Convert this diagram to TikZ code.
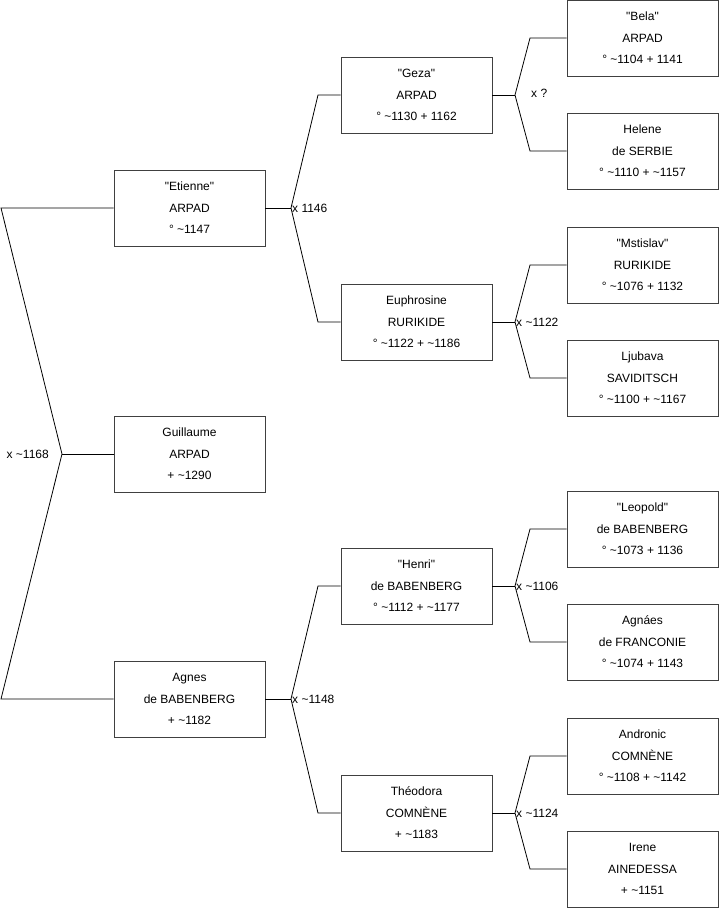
\documentclass[tikz,border=0pt]{standalone}
\usepackage{fontspec}
\setmainfont{Liberation Sans}[Ligatures=TeXOff]
\usetikzlibrary{positioning}
\newcommand{\apx}{\textasciitilde}

\begin{document}
\begin{tikzpicture}[
  x=1pt, y=-1pt,
  pbox/.style={draw=black!75, line width=0.9pt, minimum width=151pt, minimum height=76pt,
               inner sep=0pt, align=center, font=\fontsize{12}{21.5}\selectfont},
  link/.style={line width=0.8pt},
  mlabel/.style={font=\fontsize{12}{14}\selectfont, inner sep=0pt},
]
  \useasboundingbox (0,0) rectangle (719,908);

  % generation 1
  \node[pbox] (etienne) at (189.5,208) {"Etienne"\\ARPAD\\° \apx1147};
  \node[pbox] (guillaume) at (189.5,454) {Guillaume\\ARPAD\\+ \apx1290};
  \node[pbox] (agnes) at (189.5,699) {Agnes\\de BABENBERG\\+ \apx1182};

  % generation 2
  \node[pbox] (geza) at (416.5,95) {"Geza"\\ARPAD\\° \apx1130 + 1162};
  \node[pbox] (euphro) at (416.5,322) {Euphrosine\\RURIKIDE\\° \apx1122 + \apx1186};
  \node[pbox] (henri) at (416.5,586) {"Henri"\\de BABENBERG\\° \apx1112 + \apx1177};
  \node[pbox] (theodora) at (416.5,813) {Théodora\\COMNÈNE\\+ \apx1183};

  % generation 3
  \node[pbox] (bela) at (642.5,38) {"Bela"\\ARPAD\\° \apx1104 + 1141};
  \node[pbox] (helene) at (642.5,151) {Helene\\de SERBIE\\° \apx1110 + \apx1157};
  \node[pbox] (mstislav) at (642.5,265) {"Mstislav"\\RURIKIDE\\° \apx1076 + 1132};
  \node[pbox] (ljubava) at (642.5,378) {Ljubava\\SAVIDITSCH\\° \apx1100 + \apx1167};
  \node[pbox] (leopold) at (642.5,529) {"Leopold"\\de BABENBERG\\° \apx1073 + 1136};
  \node[pbox] (agnaes) at (642.5,642) {Agnáes\\de FRANCONIE\\° \apx1074 + 1143};
  \node[pbox] (andronic) at (642.5,756) {Andronic\\COMNÈNE\\° \apx1108 + \apx1142};
  \node[pbox] (irene) at (642.5,869) {Irene\\AINEDESSA\\+ \apx1151};

  % fork points
  \coordinate (f0) at (62,454);
  \coordinate (f0a) at (1,208);
  \coordinate (f0b) at (1,699);
  \coordinate (f1) at (291,208);
  \coordinate (f1a) at (318,95);
  \coordinate (f1b) at (318,322);
  \coordinate (f2) at (291,699);
  \coordinate (f2a) at (318,586);
  \coordinate (f2b) at (318,813);
  \coordinate (f3) at (515,95);
  \coordinate (f3a) at (530,38);
  \coordinate (f3b) at (530,151);
  \coordinate (f4) at (515,322);
  \coordinate (f4a) at (530,265);
  \coordinate (f4b) at (530,378);
  \coordinate (f5) at (515,586);
  \coordinate (f5a) at (530,529);
  \coordinate (f5b) at (530,642);
  \coordinate (f6) at (515,813);
  \coordinate (f6a) at (530,756);
  \coordinate (f6b) at (530,869);

  % marriages
  \draw[link] (etienne) -- (f0a) -- (f0) -- (f0b) -- (agnes);
  \draw[link] (f0) -- (guillaume);
  \draw[link] (etienne) -- (f1);
  \draw[link] (geza) -- (f1a) -- (f1) -- (f1b) -- (euphro);
  \draw[link] (agnes) -- (f2);
  \draw[link] (henri) -- (f2a) -- (f2) -- (f2b) -- (theodora);
  \draw[link] (geza) -- (f3);
  \draw[link] (bela) -- (f3a) -- (f3) -- (f3b) -- (helene);
  \draw[link] (euphro) -- (f4);
  \draw[link] (mstislav) -- (f4a) -- (f4) -- (f4b) -- (ljubava);
  \draw[link] (henri) -- (f5);
  \draw[link] (leopold) -- (f5a) -- (f5) -- (f5b) -- (agnaes);
  \draw[link] (theodora) -- (f6);
  \draw[link] (andronic) -- (f6a) -- (f6) -- (f6b) -- (irene);

  \node[mlabel, anchor=east] (m0) at (49,454) {x \apx1168};
  \node[mlabel, anchor=west] (m1) at (292,208) {x 1146};
  \node[mlabel, anchor=west] (m2) at (292,699) {x \apx1148};
  \node[mlabel, anchor=west] (m3) at (531,93) {x ?};
  \node[mlabel, anchor=west] (m4) at (516,322) {x \apx1122};
  \node[mlabel, anchor=west] (m5) at (516,586) {x \apx1106};
  \node[mlabel, anchor=west] (m6) at (516,813) {x \apx1124};
\end{tikzpicture}
\end{document}
